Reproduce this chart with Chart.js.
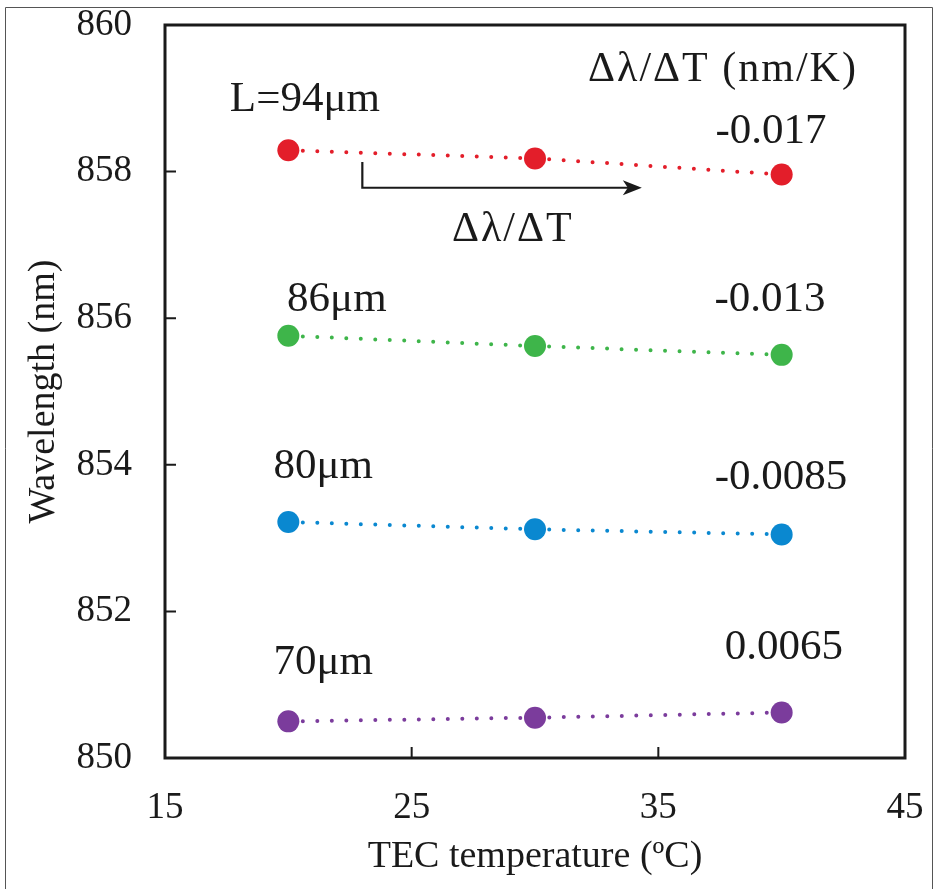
<!DOCTYPE html>
<html>
<head>
<meta charset="utf-8">
<script src="https://cdn.jsdelivr.net/npm/chart.js@4.4.0/dist/chart.umd.min.js"></script>
<style>
  body { margin: 0; background: #fff; }
  #wrap { width: 940px; height: 889px; position: relative; }
</style>
</head>
<body>
<div id="wrap"><canvas id="chart" width="940" height="889"></canvas></div>
<script>
// data
const temps = [20, 30, 40];
const lengths = ['L=94\u03bcm', '86\u03bcm', '80\u03bcm', '70\u03bcm'];
const wl94 = [858.29, 858.18, 857.96];
const wl86 = [855.76, 855.62, 855.50];
const wl80 = [853.22, 853.12, 853.05];
const wl70 = [850.50, 850.55, 850.62];
const slopes = ['-0.017', '-0.013', '-0.0085', '0.0065'];
const xTicks = [15, 25, 35, 45];
const yTicks = [850, 852, 854, 856, 858, 860];

const colors = ['#e31e2a', '#3eb54a', '#0a88d0', '#7b3c9c'];
const serif = '"Liberation Serif", "Times New Roman", serif';

function series(vals, i) {
    return {
        label: lengths[i],
        data: temps.map((t, k) => ({ x: t, y: vals[k] })),
        borderColor: colors[i],
        backgroundColor: colors[i],
        borderWidth: 4,
        borderDash: [0, 14.5],
        borderCapStyle: 'round',
        pointRadius: 11,
        pointBorderWidth: 0,
        pointHoverRadius: 11,
        showLine: true,
        fill: false
    };
}

// annotation anchors in data units
const labelPos = [[17.63, 858.98], [19.95, 856.25], [19.4, 853.97], [19.4, 851.3]];
const slopePos = [[39.57, 858.55], [39.53, 856.25], [39.97, 853.82], [40.09, 851.5]];

const extras = {
    id: 'extras',
    beforeDraw(chart) {
        const c = chart.ctx;
        c.save();
        c.strokeStyle = '#555';
        c.lineWidth = 1;
        c.beginPath();
        c.moveTo(5.5, 889);
        c.lineTo(5.5, 7.5);
        c.lineTo(932.5, 7.5);
        c.lineTo(932.5, 889);
        c.stroke();
        c.restore();
    },
    afterDatasetsDraw(chart) {
        const c = chart.ctx;
        const xs = chart.scales.x, ys = chart.scales.y;
        const a = chart.chartArea;
        c.save();
        // frame
        c.strokeStyle = '#1a1a1a';
        c.lineWidth = 3;
        c.strokeRect(a.left, a.top, a.right - a.left, a.bottom - a.top);
        // inward ticks
        c.lineWidth = 2;
        c.beginPath();
        yTicks.slice(1, -1).forEach(v => {
            const y = ys.getPixelForValue(v);
            c.moveTo(a.left, y); c.lineTo(a.left + 11, y);
        });
        xTicks.slice(1, -1).forEach(v => {
            const x = xs.getPixelForValue(v);
            c.moveTo(x, a.bottom); c.lineTo(x, a.bottom - 11);
        });
        c.stroke();

        // arrow
        const x0 = xs.getPixelForValue(23), x1 = xs.getPixelForValue(34.25);
        const yA = ys.getPixelForValue(858.13), yB = ys.getPixelForValue(857.78);
        c.lineWidth = 2.2;
        c.beginPath();
        c.moveTo(x0, yA); c.lineTo(x0, yB); c.lineTo(x1 - 4, yB);
        c.stroke();
        c.fillStyle = '#1a1a1a';
        c.beginPath();
        c.moveTo(x1 + 2, yB);
        c.lineTo(x1 - 17, yB - 7.5);
        c.lineTo(x1 - 12, yB);
        c.lineTo(x1 - 17, yB + 7.5);
        c.closePath();
        c.fill();

        // texts
        c.fillStyle = '#1a1a1a';
        c.textBaseline = 'middle';
        c.font = '43px ' + serif;
        c.textAlign = 'left';
        lengths.forEach((t, i) => {
            const p = labelPos[i];
            c.fillText(t, xs.getPixelForValue(p[0]), ys.getPixelForValue(p[1]));
        });
        c.textAlign = 'center';
        slopes.forEach((t, i) => {
            const p = slopePos[i];
            c.fillText(t, xs.getPixelForValue(p[0]), ys.getPixelForValue(p[1]));
        });
        c.font = '42px ' + serif;
        c.letterSpacing = '2px';
        c.fillText('\u0394\u03bb/\u0394T (nm/K)', xs.getPixelForValue(37.62), ys.getPixelForValue(859.39));
        c.fillText('\u0394\u03bb/\u0394T', xs.getPixelForValue(29.1), ys.getPixelForValue(857.2));
        c.restore();
    }
};

new Chart(document.getElementById('chart'), {
    type: 'scatter',
    data: {
        datasets: [series(wl94, 0), series(wl86, 1), series(wl80, 2), series(wl70, 3)]
    },
    options: {
        responsive: false,
        animation: false,
        layout: { padding: { left: 0, right: 35, top: 25, bottom: 0 } },
        plugins: { legend: { display: false }, tooltip: { enabled: false } },
        scales: {
            x: {
                type: 'linear',
                min: 15, max: 45,
                afterBuildTicks: s => { s.ticks = xTicks.map(v => ({ value: v })); },
                afterFit: s => { s.height = 131; s.paddingLeft = 0; s.paddingRight = 0; },
                grid: { display: false, drawTicks: false },
                border: { display: false },
                ticks: { color: '#1a1a1a', font: { family: serif, size: 37 }, padding: 28 },
                title: {
                    display: true,
                    text: 'TEC temperature (\u00baC)',
                    color: '#1a1a1a',
                    font: { family: serif, size: 38 },
                    padding: { top: 0, bottom: 9 }
                }
            },
            y: {
                min: 850, max: 860,
                afterBuildTicks: s => { s.ticks = yTicks.map(v => ({ value: v })); },
                afterFit: s => { s.width = 165; s.paddingTop = 0; s.paddingBottom = 0; },
                grid: { display: false, drawTicks: false },
                border: { display: false },
                ticks: { color: '#1a1a1a', font: { family: serif, size: 37 }, padding: 33 },
                title: {
                    display: true,
                    text: 'Wavelength (nm)',
                    color: '#1a1a1a',
                    font: { family: serif, size: 38 },
                    padding: { top: 21, bottom: 0 }
                }
            }
        }
    },
    plugins: [extras]
});
</script>
</body>
</html>
